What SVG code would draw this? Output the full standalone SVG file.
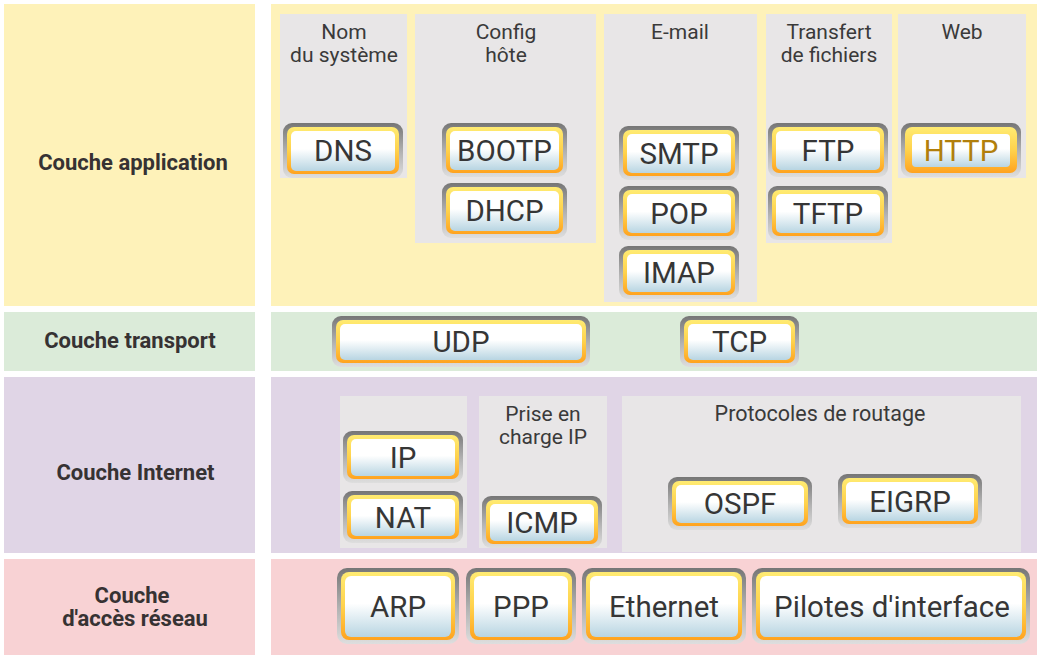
<svg xmlns="http://www.w3.org/2000/svg" width="1041" height="655" viewBox="0 0 1041 655">
<defs>
<linearGradient id="gOut" x1="0" y1="0" x2="0" y2="1"><stop offset="0" stop-color="#767676"/><stop offset="0.55" stop-color="#b4b4b4"/><stop offset="1" stop-color="#dedede"/></linearGradient>
<linearGradient id="gRing" x1="0" y1="0" x2="0" y2="1"><stop offset="0" stop-color="#ffeb72"/><stop offset="0.5" stop-color="#ffd24c"/><stop offset="1" stop-color="#ffa31f"/></linearGradient>
<linearGradient id="gIn" x1="0" y1="0" x2="0" y2="1"><stop offset="0" stop-color="#ffffff"/><stop offset="0.45" stop-color="#ffffff"/><stop offset="1" stop-color="#b8d5e2"/></linearGradient>
</defs>
<style>
.lab{font-family:Roboto,"Liberation Sans",sans-serif;font-weight:bold;font-size:22px;fill:#363233;text-anchor:middle}
.hd{font-family:Roboto,"Liberation Sans",sans-serif;font-size:21px;fill:#3a3a3a;text-anchor:middle}
.bt{font-family:Roboto,"Liberation Sans",sans-serif;font-size:29.5px;fill:#363636;text-anchor:middle}
.sel{fill:#b17f0c}
.o{fill:url(#gOut)}
.r{fill:url(#gRing)}
.i{fill:url(#gIn)}
.gb{fill:#e8e6e7}
</style>
<rect width="1041" height="655" fill="#ffffff"/>
<g id="rows">
<rect x="4" y="4" width="251" height="302" fill="#fef2b9"/>
<rect x="271" y="4" width="766" height="302" fill="#fef2b9"/>
<rect x="4" y="312" width="251" height="59" fill="#dbebd9"/>
<rect x="271" y="312" width="766" height="59" fill="#dbebd9"/>
<rect x="4" y="377" width="251" height="176" fill="#e0d5e6"/>
<rect x="271" y="377" width="766" height="176" fill="#e0d5e6"/>
<rect x="4" y="559" width="251" height="96" fill="#f8d2d4"/>
<rect x="271" y="559" width="766" height="96" fill="#f8d2d4"/>
</g>
<g id="layer-labels">
<text class="lab" x="133" y="170">Couche application</text>
<text class="lab" x="130" y="348">Couche transport</text>
<text class="lab" x="135.5" y="480">Couche Internet</text>
<text class="lab" x="132" y="603">Couche</text>
<text class="lab" x="135" y="626">d'accès réseau</text>
</g>
<g id="groups">
<rect class="gb" x="280" y="14" width="127" height="164"/>
<rect class="gb" x="415" y="14" width="181" height="229"/>
<rect class="gb" x="604" y="14" width="153" height="288"/>
<rect class="gb" x="766" y="14" width="126" height="229"/>
<rect class="gb" x="898" y="14" width="128" height="164"/>
<rect class="gb" x="340" y="396" width="127" height="152"/>
<rect class="gb" x="479" y="396" width="128" height="152"/>
<rect class="gb" x="622" y="396" width="399" height="156"/>
<text class="hd" x="344" y="39">Nom</text>
<text class="hd" x="344" y="62">du système</text>
<text class="hd" x="506" y="39">Config</text>
<text class="hd" x="506" y="62">hôte</text>
<text class="hd" x="680" y="39">E-mail</text>
<text class="hd" x="829" y="39">Transfert</text>
<text class="hd" x="829" y="62">de fichiers</text>
<text class="hd" x="962" y="39">Web</text>
<text class="hd" x="543" y="421">Prise en</text>
<text class="hd" x="543" y="444">charge IP</text>
<text class="hd" x="820" y="421" style="font-size:21.5px">Protocoles de routage</text>
</g>
<g id="connectors"/>
<g id="DNS"><rect class="o" x="283" y="123" width="120" height="55" rx="9"/><rect class="r" x="287" y="127" width="112" height="47" rx="7"/><rect class="i" x="291" y="131" width="104" height="40" rx="5"/><text class="bt" x="343" y="161">DNS</text></g>
<g id="BOOTP"><rect class="o" x="442" y="123" width="125" height="54" rx="9"/><rect class="r" x="446" y="127" width="117" height="46" rx="7"/><rect class="i" x="450" y="131" width="109" height="39" rx="5"/><text class="bt" x="504.5" y="160.5">BOOTP</text></g>
<g id="DHCP"><rect class="o" x="442" y="183" width="125" height="55" rx="9"/><rect class="r" x="446" y="187" width="117" height="47" rx="7"/><rect class="i" x="450" y="191" width="109" height="40" rx="5"/><text class="bt" x="504.5" y="221">DHCP</text></g>
<g id="SMTP"><rect class="o" x="619" y="126" width="120" height="54" rx="9"/><rect class="r" x="623" y="130" width="112" height="46" rx="7"/><rect class="i" x="627" y="134" width="104" height="39" rx="5"/><text class="bt" x="679" y="163.5">SMTP</text></g>
<g id="POP"><rect class="o" x="619" y="186" width="120" height="54" rx="9"/><rect class="r" x="623" y="190" width="112" height="46" rx="7"/><rect class="i" x="627" y="194" width="104" height="39" rx="5"/><text class="bt" x="679" y="223.5">POP</text></g>
<g id="IMAP"><rect class="o" x="619" y="246" width="120" height="53" rx="9"/><rect class="r" x="623" y="250" width="112" height="45" rx="7"/><rect class="i" x="627" y="254" width="104" height="38" rx="5"/><text class="bt" x="679" y="283">IMAP</text></g>
<g id="FTP"><rect class="o" x="768" y="123" width="120" height="54" rx="9"/><rect class="r" x="772" y="127" width="112" height="46" rx="7"/><rect class="i" x="776" y="131" width="104" height="39" rx="5"/><text class="bt" x="828" y="160.5">FTP</text></g>
<g id="TFTP"><rect class="o" x="768" y="186" width="120" height="54" rx="9"/><rect class="r" x="772" y="190" width="112" height="46" rx="7"/><rect class="i" x="776" y="194" width="104" height="39" rx="5"/><text class="bt" x="828" y="223.5">TFTP</text></g>
<g id="HTTP"><rect class="o" x="901" y="123" width="120" height="54" rx="9"/><rect class="r" x="905" y="127" width="112" height="46" rx="7"/><rect class="i" x="912" y="134" width="98" height="33" rx="4"/><text class="bt sel" x="961" y="160.5">HTTP</text></g>
<g id="UDP"><rect class="o" x="332" y="316" width="258" height="51" rx="9"/><rect class="r" x="336" y="320" width="250" height="43" rx="7"/><rect class="i" x="340" y="324" width="242" height="36" rx="5"/><text class="bt" x="461" y="352">UDP</text></g>
<g id="TCP"><rect class="o" x="680" y="316" width="119" height="51" rx="9"/><rect class="r" x="684" y="320" width="111" height="43" rx="7"/><rect class="i" x="688" y="324" width="103" height="36" rx="5"/><text class="bt" x="739.5" y="352">TCP</text></g>
<g id="IP"><rect class="o" x="343" y="431" width="120" height="52" rx="9"/><rect class="r" x="347" y="435" width="112" height="44" rx="7"/><rect class="i" x="351" y="439" width="104" height="37" rx="5"/><text class="bt" x="403" y="467.5">IP</text></g>
<g id="NAT"><rect class="o" x="343" y="491" width="120" height="52" rx="9"/><rect class="r" x="347" y="495" width="112" height="44" rx="7"/><rect class="i" x="351" y="499" width="104" height="37" rx="5"/><text class="bt" x="403" y="527.5">NAT</text></g>
<g id="ICMP"><rect class="o" x="482" y="496" width="120" height="52" rx="9"/><rect class="r" x="486" y="500" width="112" height="44" rx="7"/><rect class="i" x="490" y="504" width="104" height="37" rx="5"/><text class="bt" x="542" y="532.5">ICMP</text></g>
<g id="OSPF"><rect class="o" x="668" y="477" width="144" height="53" rx="9"/><rect class="r" x="672" y="481" width="136" height="45" rx="7"/><rect class="i" x="676" y="485" width="128" height="38" rx="5"/><text class="bt" x="740" y="514">OSPF</text></g>
<g id="EIGRP"><rect class="o" x="838" y="474" width="144" height="54" rx="9"/><rect class="r" x="842" y="478" width="136" height="46" rx="7"/><rect class="i" x="846" y="482" width="128" height="39" rx="5"/><text class="bt" x="910" y="511.5">EIGRP</text></g>
<g id="ARP"><rect class="o" x="337" y="568" width="122" height="76" rx="10"/><rect class="r" x="341" y="572" width="114" height="68" rx="8"/><rect class="i" x="345" y="576" width="106" height="61" rx="6"/><text class="bt" x="398" y="616.5">ARP</text></g>
<g id="PPP"><rect class="o" x="466" y="568" width="110" height="76" rx="10"/><rect class="r" x="470" y="572" width="102" height="68" rx="8"/><rect class="i" x="474" y="576" width="94" height="61" rx="6"/><text class="bt" x="521" y="616.5">PPP</text></g>
<g id="Ethernet"><rect class="o" x="582" y="568" width="164" height="76" rx="10"/><rect class="r" x="586" y="572" width="156" height="68" rx="8"/><rect class="i" x="590" y="576" width="148" height="61" rx="6"/><text class="bt" x="664" y="616.5">Ethernet</text></g>
<g id="Pilotes"><rect class="o" x="752" y="568" width="278" height="76" rx="10"/><rect class="r" x="756" y="572" width="270" height="68" rx="8"/><rect class="i" x="760" y="576" width="262" height="61" rx="6"/><text class="bt" x="892" y="616.5">Pilotes d'interface</text></g>
</svg>
